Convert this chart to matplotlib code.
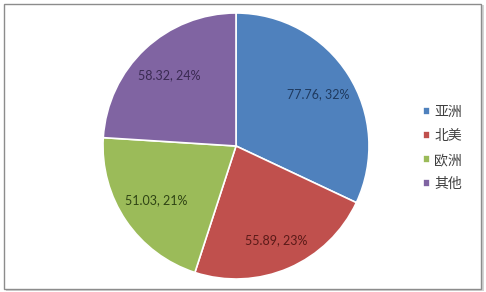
import matplotlib
matplotlib.use("Agg")
import matplotlib.pyplot as plt
from matplotlib.patches import Rectangle
import numpy as np

plt.rcParams['font.family'] = ['Noto Sans CJK SC', 'DejaVu Sans']

regions = ['亚洲', '北美', '欧洲', '其他']
values = [77.76, 55.89, 51.03, 58.32]
percents = [32, 23, 21, 24]
colors = ['#4F81BD', '#C0504D', '#9BBB59', '#8064A2']
text_colors = ['#1F3A5F', '#5A1A18', '#2F4414', '#3A2A52']

W, H = 486, 292
fig = plt.figure(figsize=(W / 100, H / 100), dpi=100)
fig.patch.set_facecolor('white')

# frame with soft shadow
fig.add_artist(Rectangle((6 / W, 1 / H), 478 / W, 286 / H, transform=fig.transFigure,
                         facecolor='#d4d4d4', edgecolor='none', zorder=-3))
fig.add_artist(Rectangle((3.5 / W, 3.5 / H), 477 / W, 285 / H, transform=fig.transFigure,
                         facecolor='white', edgecolor='#8c8c8c', linewidth=1.0, zorder=-2))

ax = fig.add_axes([103 / W, 13 / H, 266 / W, 266 / H])
ax.patch.set_visible(False)
wedges, texts = ax.pie(values, colors=colors, startangle=90, counterclock=False,
                       wedgeprops=dict(edgecolor='white', linewidth=1.2))
ax.set_aspect('equal')
ax.set_xlim(-1.0, 1.0)
ax.set_ylim(-1.0, 1.0)

total = sum(values)
start = 90.0
dists = [0.73, 0.77, 0.73, 0.73]
for v, p, tc, d in zip(values, percents, text_colors, dists):
    ang = start - v / total * 360 / 2
    start -= v / total * 360
    x = d * np.cos(np.radians(ang))
    y = d * np.sin(np.radians(ang))
    ax.text(x, y, f"{v:.2f}, {p}%", ha='center', va='center', fontsize=9, color=tc,
            family=['Lato', 'DejaVu Sans'])

leg = fig.legend(wedges, regions, loc='center left', bbox_to_anchor=(423 / W, 144 / H),
                 frameon=False, fontsize=10, handlelength=0.5, handleheight=0.5,
                 handletextpad=0.3, labelspacing=0.72, borderaxespad=0, borderpad=0)
for t in leg.get_texts():
    t.set_color('#404040')

fig.savefig('out.png', dpi=100, facecolor='white')
